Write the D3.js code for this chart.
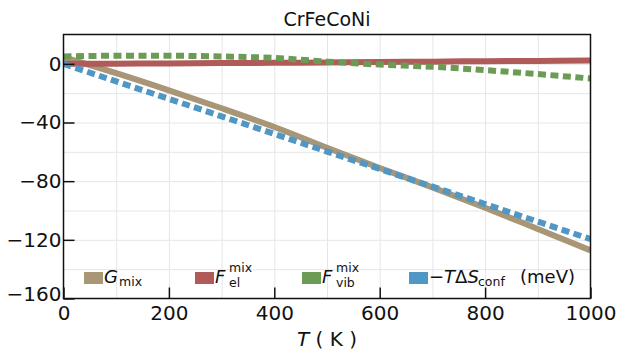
<!DOCTYPE html>
<html>
<head>
<meta charset="utf-8">
<script src="https://cdn.jsdelivr.net/npm/d3@7"></script>
<style>
  body { margin: 0; background: #fff; }
  svg { font-family: "DejaVu Sans", sans-serif; }
</style>
</head>
<body>
<div id="chart"></div>
<script>
// temperature grid (K)
const temps = [0, 100, 200, 300, 400, 500, 600, 700, 800, 900, 1000];

// mixing free energy contributions, meV
const gMix = [4.5, -6.4, -18.1, -30.3, -43.1, -57.2, -71.0, -84.2, -98.1, -112.6, -127.2];
const fEl = [0, 0.1, 0.3, 0.5, 0.7, 0.9, 1.2, 1.5, 1.8, 2.0, 2.3];
const fVib = [5.0, 5.5, 5.5, 5.0, 4.0, 1.5, -0.5, -2.0, -4.3, -7.0, -10.0];
const tdsConf = [0, -12.0, -23.9, -35.8, -47.8, -59.8, -71.7, -83.7, -95.6, -107.6, -119.5];

const xTicks = [0, 200, 400, 600, 800, 1000];
const yTicks = [-160, -120, -80, -40, 0];

const width = 630, height = 350;
const padding = { l: 63.5, r: 39.5, t: 34.5, b: 51.5 };

const x = d3.scaleLinear()
    .domain([0, 1000])
    .range([padding.l, width - padding.r]);

const y = d3.scaleLinear()
    .domain([-160, 20])
    .range([height - padding.b, padding.t]);

const svg = d3.select("#chart")
    .append("svg")
    .attr("width", width)
    .attr("height", height);

svg.append("defs").append("clipPath")
    .attr("id", "plot-clip")
    .append("rect")
    .attr("x", padding.l)
    .attr("y", padding.t)
    .attr("width", x(1000) - padding.l)
    .attr("height", y(-160) - padding.t);

// light grid every 100 K and 20 meV
const grid = svg.append("g").attr("class", "grid");

grid.append("g")
    .attr("transform", `translate(0, ${y(-160)})`)
    .call(d3.axisBottom(x).tickValues(d3.range(100, 1000, 100)).tickSize(-(y(-160) - y(20))).tickFormat(""))
    .call(g => g.select(".domain").remove())
    .call(g => g.selectAll("line").attr("stroke", "#e6e6e6").attr("stroke-width", 1));

grid.append("g")
    .attr("transform", `translate(${x(0)}, 0)`)
    .call(d3.axisLeft(y).tickValues(d3.range(-140, 20, 20)).tickSize(-(x(1000) - x(0))).tickFormat(""))
    .call(g => g.select(".domain").remove())
    .call(g => g.selectAll("line").attr("stroke", "#e6e6e6").attr("stroke-width", 1));

const series = [
    { key: "g", values: gMix, color: "#a99676", dash: null },
    { key: "el", values: fEl, color: "#b05a5a", dash: null },
    { key: "vib", values: fVib, color: "#6b9b55", dash: "8,4.5" },
    { key: "conf", values: tdsConf, color: "#4f97c5", dash: "8,4.5" }
];

const line = d3.line()
    .x((d, i) => x(temps[i]))
    .y(d => y(d))
    .curve(d3.curveMonotoneX);

svg.append("g")
    .attr("clip-path", "url(#plot-clip)")
    .selectAll("path")
    .data(series)
    .join("path")
    .attr("fill", "none")
    .attr("stroke", d => d.color)
    .attr("stroke-width", 6)
    .attr("stroke-dasharray", d => d.dash)
    .attr("d", d => line(d.values));

// frame
svg.append("rect")
    .attr("x", x(0))
    .attr("y", y(20))
    .attr("width", x(1000) - x(0))
    .attr("height", y(-160) - y(20))
    .attr("fill", "none")
    .attr("stroke", "#111")
    .attr("stroke-width", 1.5);

const xAxis = svg.append("g")
    .attr("transform", `translate(0, ${y(-160)})`)
    .call(d3.axisBottom(x).tickValues(xTicks).tickSize(-11).tickPadding(7).tickFormat(d3.format("d")));

const yAxis = svg.append("g")
    .attr("transform", `translate(${x(0)}, 0)`)
    .call(d3.axisLeft(y).tickValues(yTicks).tickSize(-11).tickPadding(2)
        .tickFormat(d => d < 0 ? "\u2212" + Math.abs(d) : d));

[xAxis, yAxis].forEach(ax => {
    ax.select(".domain").remove();
    ax.selectAll("line").attr("stroke", "#111").attr("stroke-width", 1.5);
    ax.selectAll("text")
        .attr("fill", "#111")
        .style("font-size", "20px")
        .style("font-family", "DejaVu Sans, sans-serif");
});

// keep the lowest y label clear of the first x label
yAxis.selectAll(".tick text").filter(d => d === -160).attr("dy", "0.1em");

svg.append("text")
    .attr("x", (x(0) + x(1000)) / 2)
    .attr("y", 26)
    .attr("text-anchor", "middle")
    .style("font-size", "19px")
    .attr("fill", "#111")
    .text("CrFeCoNi");

const xLabel = svg.append("text")
    .attr("x", (x(0) + x(1000)) / 2)
    .attr("y", 346)
    .attr("text-anchor", "middle")
    .style("font-size", "20px")
    .attr("fill", "#111");
xLabel.append("tspan").style("font-style", "italic").text("T");
xLabel.append("tspan").text(" ( K )");

// legend
const legendY = 272;
const legendItems = [
    { x: 84, color: "#a99676" },
    { x: 195, color: "#b05a5a" },
    { x: 302, color: "#6b9b55" },
    { x: 409, color: "#4f97c5" }
];

const legend = svg.append("g").attr("class", "legend");

legend.selectAll("rect")
    .data(legendItems)
    .join("rect")
    .attr("x", d => d.x)
    .attr("y", legendY)
    .attr("width", 19)
    .attr("height", 12)
    .attr("fill", d => d.color);

const base = legendY + 11;

function label(xPos) {
    return legend.append("text")
        .attr("x", xPos)
        .attr("y", base)
        .style("font-size", "18px")
        .attr("fill", "#111");
}

function small(xPos, yPos, txt) {
    legend.append("text")
        .attr("x", xPos)
        .attr("y", yPos)
        .style("font-size", "12.5px")
        .attr("fill", "#111")
        .text(txt);
}

// G_mix
label(104).style("font-style", "italic").text("G");
small(119, base + 3, "mix");

// F_el^mix
label(215).style("font-style", "italic").text("F");
small(229, base - 11, "mix");
small(229, base + 4, "el");

// F_vib^mix
label(322).style("font-style", "italic").text("F");
small(336, base - 11, "mix");
small(336, base + 4, "vib");

// -T dS_conf
const tds = label(429);
tds.append("tspan").text("\u2212");
tds.append("tspan").style("font-style", "italic").text("T");
tds.append("tspan").text("\u0394");
tds.append("tspan").style("font-style", "italic").text("S");
small(478, base + 3, "conf");

label(520).text("(meV)");
</script>
</body>
</html>
